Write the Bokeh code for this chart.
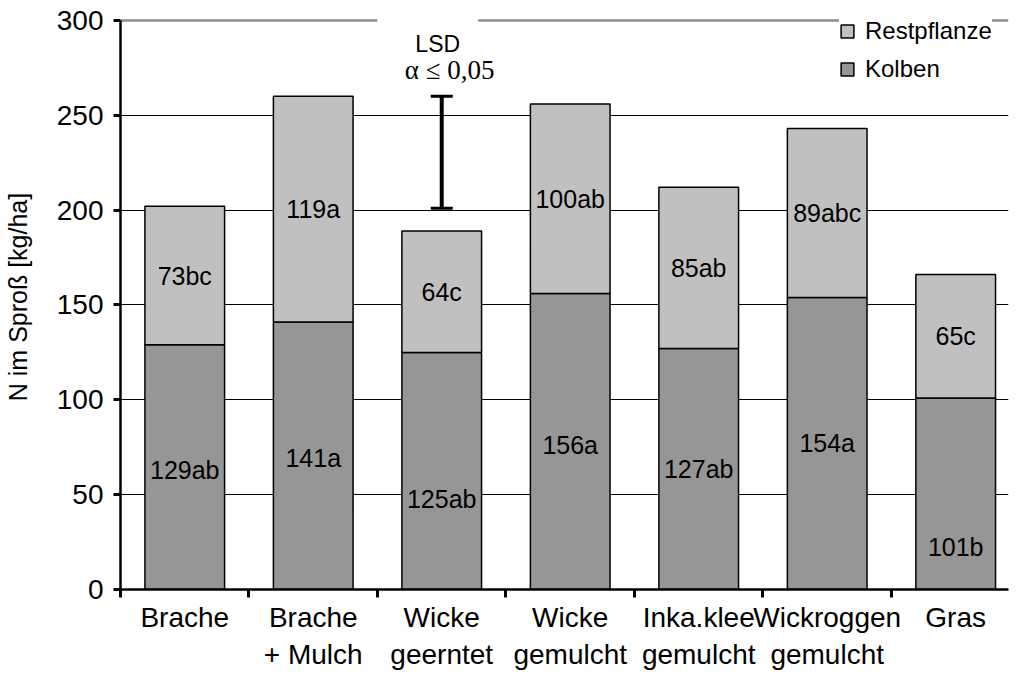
from bokeh.plotting import figure
from bokeh.models import (ColumnDataSource, FixedTicker, Grid, Legend, LegendItem,
                          Label, Whisker, TeeHead, Range1d, LabelSet)
from bokeh.core.properties import value
from bokeh.embed import file_html
from bokeh.resources import INLINE

# ---------------- data ----------------
categories = ["Brache", "Brache\n+ Mulch", "Wicke\ngeerntet", "Wicke\ngemulcht",
              "Inka.klee\ngemulcht", "Wickroggen\ngemulcht", "Gras"]
kolben = [129, 141, 125, 156, 127, 154, 101]
restpflanze = [73, 119, 64, 100, 85, 89, 65]
kolben_labels = ["129ab", "141a", "125ab", "156a", "127ab", "154a", "101b"]
rest_labels = ["73bc", "119a", "64c", "100ab", "85ab", "89abc", "65c"]
y_ticks = [0, 50, 100, 150, 200, 250, 300]
lsd_category = 2          # drawn above "Wicke geerntet"
lsd_low, lsd_high = 201, 260

# ---------------- layout helpers ----------------
kolben_label_frac = [0.49, 0.49, 0.38, 0.49, 0.5, 0.5, 0.22]

FONT = "Liberation Sans"
n = len(categories)
xc = [i + 0.5 for i in range(n)]
totals = [k + r for k, r in zip(kolben, restpflanze)]

src = ColumnDataSource(dict(
    x=xc, kolben=kolben, rest=restpflanze, total=totals,
    kl=kolben_labels, rl=rest_labels,
    ky=[k * f for k, f in zip(kolben, kolben_label_frac)],
    ry=[k + r / 2 for k, r in zip(kolben, restpflanze)],
))

p = figure(width=1010, height=672, output_backend="svg", toolbar_location=None,
           x_range=Range1d(0, 6.911), y_range=Range1d(y_ticks[0], y_ticks[-1] + 8.4),
           min_border_left=113, min_border_right=2, min_border_top=4,
           min_border_bottom=80)
p.outline_line_color = None
p.background_fill_color = "white"
p.border_fill_color = "white"

# grids
p.xgrid.visible = False
p.ygrid.ticker = FixedTicker(ticks=y_ticks[1:-1])
p.ygrid.grid_line_color = "black"
p.ygrid.grid_line_width = 1.2
top_grid = Grid(dimension=1, ticker=FixedTicker(ticks=[y_ticks[-1]]),
                grid_line_color="#8c8c8c", grid_line_width=2.5)
p.add_layout(top_grid)

# bars
r_k = p.vbar(x="x", bottom=0, top="kolben", width=0.62, source=src,
             fill_color="#969696", line_color="black", line_width=1.5)
r_r = p.vbar(x="x", bottom="kolben", top="total", width=0.62, source=src,
             fill_color="#c0c0c0", line_color="black", line_width=1.5)

# bar labels
for col_y, col_t in (("ky", "kl"), ("ry", "rl")):
    p.add_layout(LabelSet(x="x", y=col_y, text=col_t, source=src,
                          text_align="center", text_baseline="middle",
                          text_font=value(FONT), text_font_size=value("25px"),
                          text_color="black"))

# LSD whisker
lsd_src = ColumnDataSource(dict(x=[xc[lsd_category]], lo=[lsd_low], hi=[lsd_high]))
p.add_layout(Whisker(source=lsd_src, base="x", lower="lo", upper="hi",
                     line_width=4, line_color="black",
                     upper_head=TeeHead(size=22, line_width=3, line_color="black"),
                     lower_head=TeeHead(size=22, line_width=3, line_color="black")))
p.add_layout(Label(x=xc[lsd_category], y=291, text="LSD", text_align="center",
                   text_baseline="middle", text_font=FONT, text_font_size="23px",
                   text_color="black", background_fill_color="white", x_offset=-14,
                   padding=dict(left=38, right=18, top=16, bottom=4)))
p.add_layout(Label(x=xc[lsd_category], y=274, text="α ≤ 0,05", text_align="center",
                   text_baseline="middle", text_font="Liberation Serif", x_offset=8,
                   text_font_size="27px", text_color="black"))

# axes
xa = p.xaxis[0]
xa.ticker = FixedTicker(ticks=xc, minor_ticks=list(range(n + 1)))
xa.major_label_overrides = {x: c for x, c in zip(xc, categories)}
xa.major_tick_out = 0
xa.major_tick_in = 0
xa.minor_tick_out = 8
xa.minor_tick_in = 0
xa.minor_tick_line_width = 3
xa.minor_tick_line_color = "black"
xa.axis_line_width = 2.5
xa.axis_line_color = "black"
xa.major_label_text_font = FONT
xa.major_label_text_font_size = "28px"
xa.major_label_text_color = "black"
xa.major_label_standoff = 4

ya = p.yaxis[0]
ya.ticker = FixedTicker(ticks=y_ticks)
ya.bounds = (y_ticks[0], y_ticks[-1])
ya.major_tick_out = 7
ya.major_tick_in = 0
ya.major_tick_line_width = 3
ya.minor_tick_out = 0
ya.minor_tick_in = 0
ya.axis_line_width = 2.5
ya.axis_line_color = "black"
ya.major_label_text_font = FONT
ya.major_label_text_font_size = "28px"
ya.major_label_text_color = "black"
ya.major_label_standoff = 10
ya.axis_label = "N im Sproß [kg/ha]"
ya.axis_label_text_font = FONT
ya.axis_label_text_font_size = "25px"
ya.axis_label_text_font_style = "normal"
ya.axis_label_text_color = "black"
ya.axis_label_standoff = 22

# legend
legend = Legend(items=[LegendItem(label="Restpflanze", renderers=[r_r]),
                       LegendItem(label="Kolben", renderers=[r_k])],
                location=(719, 506), orientation="vertical",
                background_fill_color="white", background_fill_alpha=1,
                border_line_color=None, glyph_width=16, glyph_height=16,
                label_standoff=10, label_text_font=FONT, label_text_font_size="24px",
                label_text_color="black", spacing=10, padding=4, margin=0)
p.add_layout(legend)

open("out.html", "w").write(file_html(p, INLINE))
